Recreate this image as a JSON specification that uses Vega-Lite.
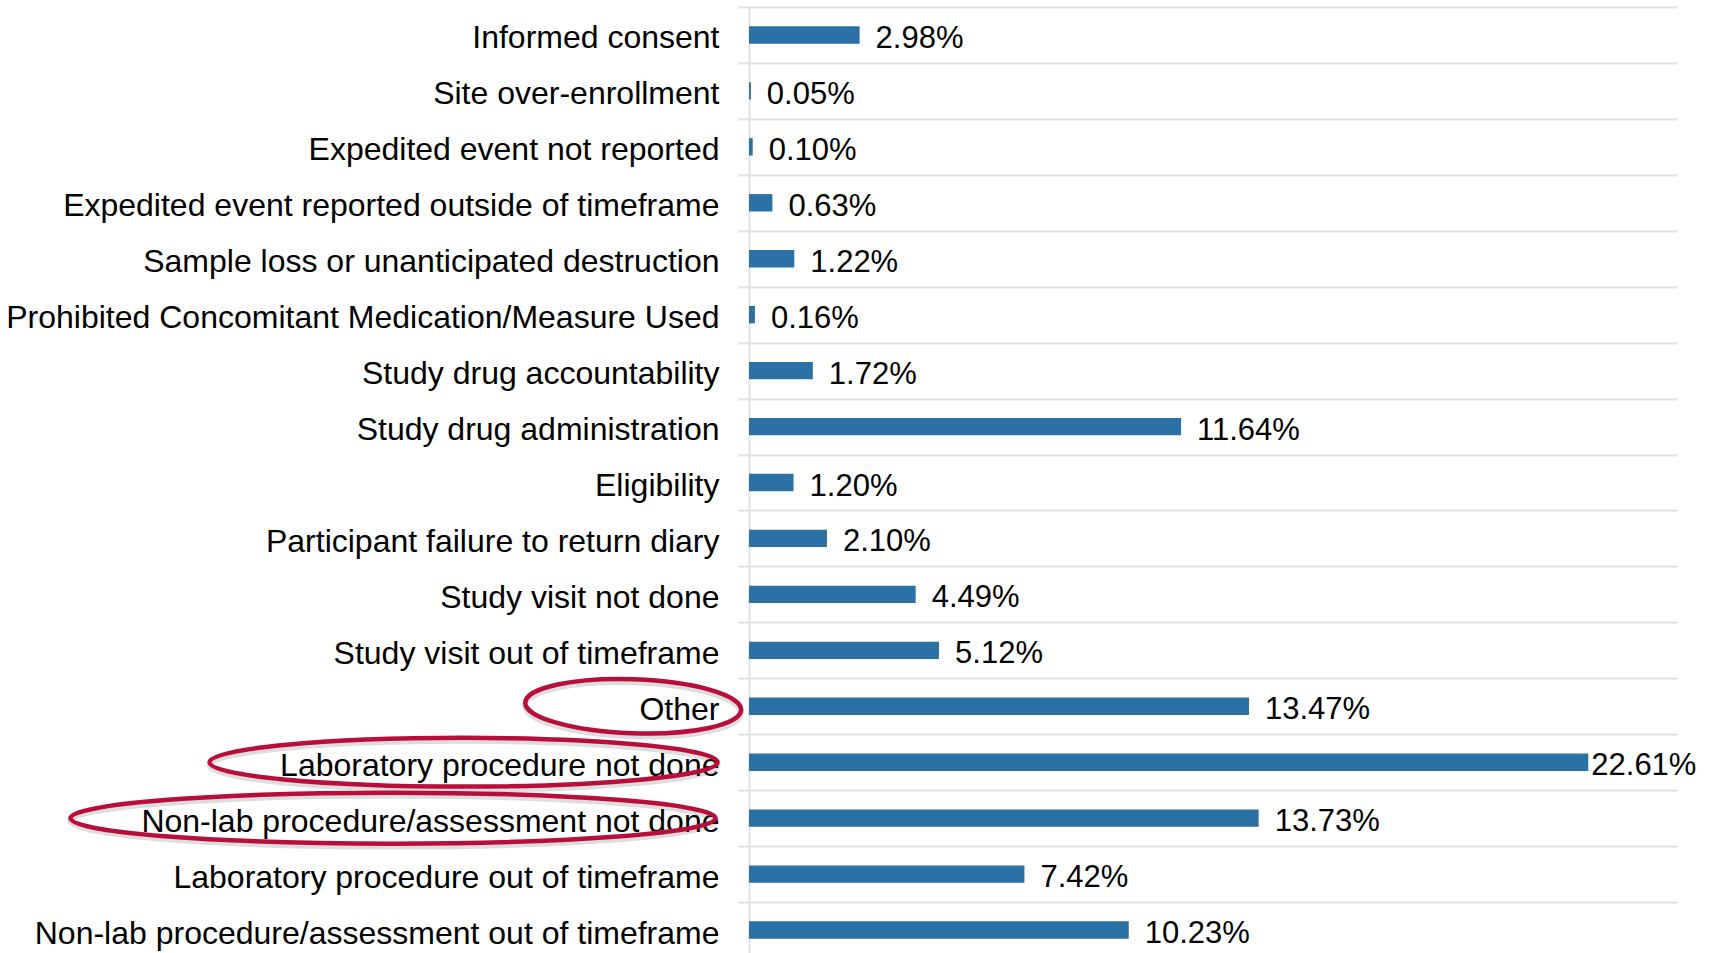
{
  "$schema": "https://vega.github.io/schema/vega-lite/v6.json",
  "autosize": {"type": "none"},
  "padding": {"left": 749, "top": 7, "right": 40, "bottom": 0},
  "width": 928,
  "height": 951,
  "background": "white",
  "config": {"view": {"stroke": null}},
  "data": {"values": [
    {"category": "Informed consent", "share": 0.0298},
    {"category": "Site over-enrollment", "share": 0.0005},
    {"category": "Expedited event not reported", "share": 0.0010},
    {"category": "Expedited event reported outside of timeframe", "share": 0.0063},
    {"category": "Sample loss or unanticipated destruction", "share": 0.0122},
    {"category": "Prohibited Concomitant Medication/Measure Used", "share": 0.0016},
    {"category": "Study drug accountability", "share": 0.0172},
    {"category": "Study drug administration", "share": 0.1164},
    {"category": "Eligibility", "share": 0.0120},
    {"category": "Participant failure to return diary", "share": 0.0210},
    {"category": "Study visit not done", "share": 0.0449},
    {"category": "Study visit out of timeframe", "share": 0.0512},
    {"category": "Other", "share": 0.1347},
    {"category": "Laboratory procedure not done", "share": 0.2261},
    {"category": "Non-lab procedure/assessment not done", "share": 0.1373},
    {"category": "Laboratory procedure out of timeframe", "share": 0.0742},
    {"category": "Non-lab procedure/assessment out of timeframe", "share": 0.1023}
  ]},
  "encoding": {
    "y": {
      "field": "category", "type": "nominal",
      "scale": {
        "domain": ["Informed consent", "Site over-enrollment", "Expedited event not reported", "Expedited event reported outside of timeframe", "Sample loss or unanticipated destruction", "Prohibited Concomitant Medication/Measure Used", "Study drug accountability", "Study drug administration", "Eligibility", "Participant failure to return diary", "Study visit not done", "Study visit out of timeframe", "Other", "Laboratory procedure not done", "Non-lab procedure/assessment not done", "Laboratory procedure out of timeframe", "Non-lab procedure/assessment out of timeframe"],
        "paddingInner": 0, "paddingOuter": 0
      },
      "axis": {
        "title": null,
        "tickBand": "extent",
        "grid": true,
        "gridColor": "#e2e2e2",
        "gridWidth": 2,
        "domainColor": "#e2e2e2",
        "domainWidth": 2,
        "tickColor": "#e2e2e2",
        "tickWidth": 2,
        "tickSize": 11,
        "labelPadding": 19,
        "labelOffset": 3,
        "labelLimit": 900,
        "labelFont": "Liberation Sans",
        "labelFontSize": 32,
        "labelColor": "#000000",
        "labelBaseline": "middle"
      }
    },
    "x": {
      "field": "share", "type": "quantitative",
      "scale": {"domain": [0, 0.25], "nice": false, "zero": true},
      "axis": null
    }
  },
  "layer": [
    {
      "mark": {"type": "bar", "color": "#2c71a6", "height": {"band": 0.31}}
    },
    {
      "transform": [{"filter": "datum.share < 0.2"}],
      "mark": {"type": "text", "align": "left", "baseline": "middle", "dx": 16, "dy": 4, "font": "Liberation Sans", "fontSize": 31, "color": "#000000"},
      "encoding": {"text": {"field": "share", "type": "quantitative", "format": ".2%"}}
    },
    {
      "transform": [{"filter": "datum.share >= 0.2"}],
      "mark": {"type": "text", "align": "left", "baseline": "middle", "dx": 3, "dy": 4, "font": "Liberation Sans", "fontSize": 31, "color": "#000000"},
      "encoding": {"text": {"field": "share", "type": "quantitative", "format": ".2%"}}
    },
    {
      "transform": [{"filter": "datum.category === 'Other'"}],
      "mark": {"type": "point", "filled": false, "stroke": "#444444", "strokeWidth": 6, "strokeOpacity": 0.18, "opacity": 1, "size": 46656, "angle": 2,
        "shape": "M-1 0.028C-1 -0.11 -0.552 -0.222 0 -0.222C0.552 -0.222 1 -0.11 1 0.028C1 0.166 0.552 0.278 0 0.278C-0.552 0.278 -1 0.166 -1 0.028Z"},
      "encoding": {"x": {"datum": -0.0312}}
    },
    {
      "transform": [{"filter": "datum.category === 'Laboratory procedure not done'"}],
      "mark": {"type": "point", "filled": false, "stroke": "#444444", "strokeWidth": 6, "strokeOpacity": 0.18, "opacity": 1, "size": 258064,
        "shape": "M-1 0.012C-1 -0.041 -0.552 -0.084 0 -0.084C0.552 -0.084 1 -0.041 1 0.012C1 0.065 0.552 0.108 0 0.108C-0.552 0.108 -1 0.065 -1 0.012Z"},
      "encoding": {"x": {"datum": -0.0769}}
    },
    {
      "transform": [{"filter": "datum.category === 'Non-lab procedure/assessment not done'"}],
      "mark": {"type": "point", "filled": false, "stroke": "#444444", "strokeWidth": 6, "strokeOpacity": 0.18, "opacity": 1, "size": 416025,
        "shape": "M-1 0.009C-1 -0.035 -0.552 -0.07 0 -0.07C0.552 -0.07 1 -0.035 1 0.009C1 0.053 0.552 0.088 0 0.088C-0.552 0.088 -1 0.053 -1 0.009Z"},
      "encoding": {"x": {"datum": -0.0959}}
    },
    {
      "transform": [{"filter": "datum.category === 'Other'"}],
      "mark": {"type": "point", "filled": false, "stroke": "#b90e3a", "strokeWidth": 4.5, "opacity": 1, "size": 46656, "angle": 2,
        "shape": "M-1 0C-1 -0.138 -0.552 -0.25 0 -0.25C0.552 -0.25 1 -0.138 1 0C1 0.138 0.552 0.25 0 0.25C-0.552 0.25 -1 0.138 -1 0Z"},
      "encoding": {"x": {"datum": -0.0312}}
    },
    {
      "transform": [{"filter": "datum.category === 'Laboratory procedure not done'"}],
      "mark": {"type": "point", "filled": false, "stroke": "#b90e3a", "strokeWidth": 4.5, "opacity": 1, "size": 258064,
        "shape": "M-1 0C-1 -0.053 -0.552 -0.096 0 -0.096C0.552 -0.096 1 -0.053 1 0C1 0.053 0.552 0.096 0 0.096C-0.552 0.096 -1 0.053 -1 0Z"},
      "encoding": {"x": {"datum": -0.0769}}
    },
    {
      "transform": [{"filter": "datum.category === 'Non-lab procedure/assessment not done'"}],
      "mark": {"type": "point", "filled": false, "stroke": "#b90e3a", "strokeWidth": 4.5, "opacity": 1, "size": 416025,
        "shape": "M-1 0C-1 -0.044 -0.552 -0.079 0 -0.079C0.552 -0.079 1 -0.044 1 0C1 0.044 0.552 0.079 0 0.079C-0.552 0.079 -1 0.044 -1 0Z"},
      "encoding": {"x": {"datum": -0.0959}}
    }
  ]
}
